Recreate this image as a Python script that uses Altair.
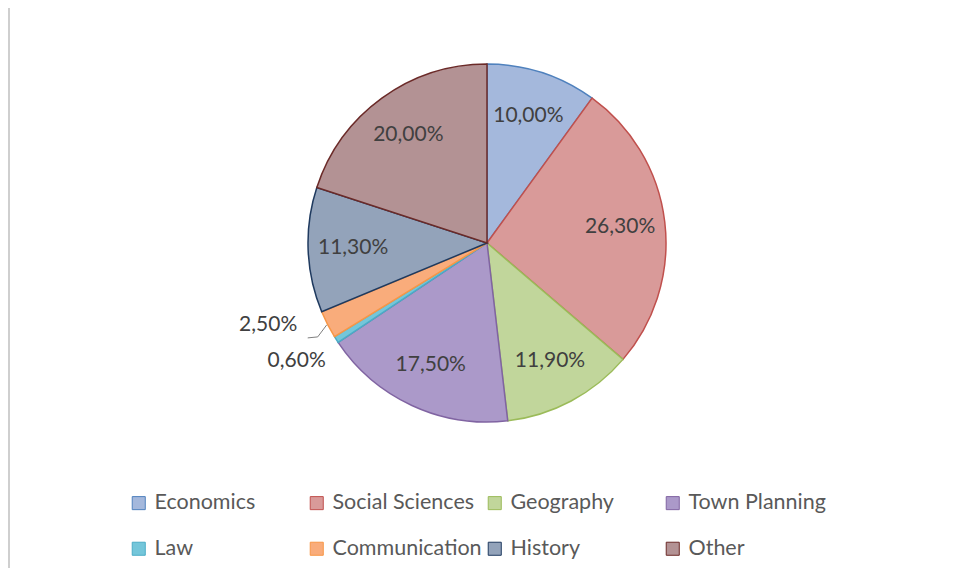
import altair as alt
import pandas as pd

categories = ["Economics", "Social Sciences", "Geography", "Town Planning",
              "Law", "Communication", "History", "Other"]
shares = [10.0, 26.3, 11.9, 17.5, 0.6, 2.5, 11.3, 20.0]
fills = ["#A4B8DC", "#D99A99", "#C1D69B", "#AB99C9", "#74C6DA", "#F9AC7B", "#93A3BA", "#B39294"]
strokes = ["#4F81BD", "#C0504D", "#9BBB59", "#8064A2", "#4BACC6", "#F79646", "#1F3A5F", "#6B2A28"]

df = pd.DataFrame({
    "category": categories,
    "share": shares,
    "idx": list(range(len(categories))),
    "label": [f"{v:.2f}".replace(".", ",") + "%" for v in shares],
})

CX, CY, R = 479, 235, 179
FONT = "Lato"

legend = alt.Legend(
    title=None, orient="none", legendX=120, legendY=484, columns=4,
    direction="horizontal", gridAlign="all", columnPadding=2, rowPadding=23,
    symbolType="square", symbolSize=170, symbolStrokeWidth=1,
    labelFont=FONT, labelFontSize=21.5, labelColor="#595959", labelOffset=5,
    labelLimit=300,
)

base = alt.Chart(df).encode(
    theta=alt.Theta("share:Q", stack=True),
    order=alt.Order("idx:Q"),
    x=alt.value(CX),
    y=alt.value(CY),
)

pie = base.mark_arc(outerRadius=R, strokeWidth=1.5).encode(
    fill=alt.Fill("category:N", scale=alt.Scale(domain=categories, range=fills), legend=legend),
    stroke=alt.Stroke("category:N", scale=alt.Scale(domain=categories, range=strokes), legend=legend),
)

text_style = dict(font=FONT, fontSize=21, color="#404040", align="center", baseline="middle")

inner = base.mark_text(radius=134, **text_style).encode(
    text=alt.condition("datum.share >= 5", alt.Text("label:N"), alt.value(""))
)
law = base.mark_text(radius=226, dy=-4, **text_style).encode(
    text=alt.condition("datum.category == 'Law'", alt.Text("label:N"), alt.value(""))
)
comm = base.mark_text(radius=230, dx=-14, dy=-23, **text_style).encode(
    text=alt.condition("datum.category == 'Communication'", alt.Text("label:N"), alt.value(""))
)

lead = (
    alt.Chart(df)
    .transform_window(cum="sum(share)", sort=[alt.SortField("idx")], frame=[None, 0])
    .transform_joinaggregate(total="sum(share)")
    .transform_calculate(ang="(datum.cum - datum.share/2) / datum.total * 2 * PI")
    .transform_filter("datum.category == 'Communication'")
    .transform_calculate(
        ex=f"{CX} + {R + 1} * sin(datum.ang)",
        ey=f"{CY} - {R + 1} * cos(datum.ang)",
    )
    .transform_calculate(kx="datum.ex - 9", ky="datum.ey + 12", lx="datum.ex - 19", ly="datum.ey + 13")
)
lead1 = lead.mark_rule(color="#7f7f7f", strokeWidth=1).encode(
    x=alt.X("ex:Q", scale=None), y=alt.Y("ey:Q", scale=None), x2="kx:Q", y2="ky:Q"
)
lead2 = lead.mark_rule(color="#7f7f7f", strokeWidth=1).encode(
    x=alt.X("kx:Q", scale=None), y=alt.Y("ky:Q", scale=None), x2="lx:Q", y2="ly:Q"
)

border = alt.Chart(df).mark_rule(color="#cfcfcf", strokeWidth=1.5).encode(
    x=alt.value(1), y=alt.value(0), y2=alt.value(560)
)

chart = (
    alt.layer(border, pie, inner, law, comm, lead1, lead2)
    .resolve_scale(x="independent", y="independent")
    .properties(width=937, height=560, padding=0, background="white",
                autosize=alt.AutoSizeParams(type="none"))
    .configure_view(stroke=None)
)

chart.save("out.html", embed_options={"renderer": "svg", "actions": False})
